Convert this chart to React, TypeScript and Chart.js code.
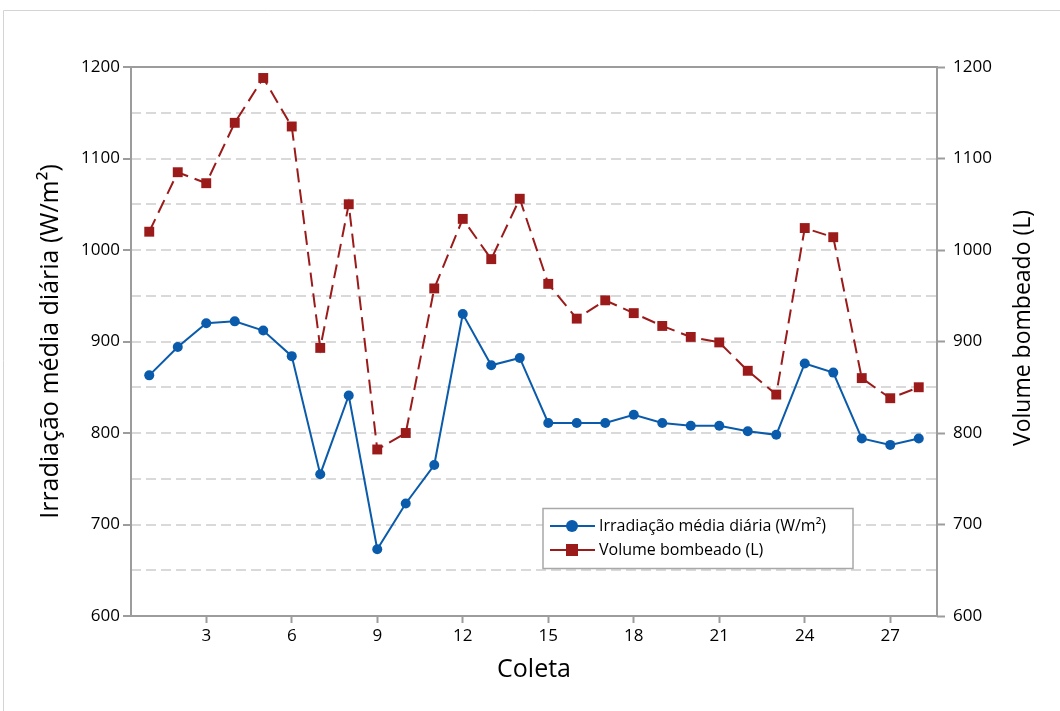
import React, { useEffect, useRef } from "react";
import { Chart, registerables } from "chart.js";

Chart.register(...registerables);

const categories = [1, 2, 3, 4, 5, 6, 7, 8, 9, 10, 11, 12, 13, 14, 15, 16, 17, 18, 19, 20, 21, 22, 23, 24, 25, 26, 27, 28];
const irradiacao = [863, 894, 920, 922, 912, 884, 755, 841, 673, 723, 765, 930, 874, 882, 811, 811, 811, 820, 811, 808, 808, 802, 798, 876, 866, 794, 787, 794];
const volume = [1020, 1085, 1073, 1139, 1188, 1135, 893, 1050, 782, 800, 958, 1034, 990, 1056, 963, 925, 945, 931, 917, 905, 899, 868, 842, 1024, 1014, 860, 838, 850];
const xTicks = [3, 6, 9, 12, 15, 18, 21, 24, 27];
const yGridValues = [600, 650, 700, 750, 800, 850, 900, 950, 1000, 1050, 1100, 1150, 1200];
const yLabelStep = 100;

const seriesNames = ["Irradiação média diária (W/m²)", "Volume bombeado (L)"];
const axisTitles = { x: "Coleta", y: "Irradiação média diária (W/m²)", y2: "Volume bombeado (L)" };

const BLUE = "#0a5bab";
const RED = "#9b1a1a";
const AXIS = "#9c9c9c";
const GRID = "#d9d9d9";
const TEXT = "#000000";
const FONT = "'Open Sans', 'Noto Sans', sans-serif";

const framePlugin = {
  id: "frame",
  beforeDraw(chart: any) {
    const { ctx, width, height } = chart;
    ctx.save();
    ctx.fillStyle = "#ffffff";
    ctx.fillRect(0, 0, width, height);
    ctx.strokeStyle = "#d4d4d4";
    ctx.lineWidth = 1;
    ctx.beginPath();
    ctx.moveTo(3.5, height);
    ctx.lineTo(3.5, 10.5);
    ctx.lineTo(width, 10.5);
    ctx.stroke();
    ctx.restore();
  },
  beforeDatasetsDraw(chart: any) {
    const { ctx, chartArea } = chart;
    ctx.save();
    ctx.strokeStyle = AXIS;
    ctx.lineWidth = 2;
    ctx.strokeRect(chartArea.left, chartArea.top, chartArea.right - chartArea.left, chartArea.bottom - chartArea.top);
    ctx.restore();
  },
  afterDraw(chart: any) {
    const { ctx } = chart;
    ctx.save();
    // right axis title, reading bottom-to-top
    ctx.translate(1023, 328);
    ctx.rotate(-Math.PI / 2);
    ctx.font = `500 23px ${FONT}`;
    ctx.fillStyle = TEXT;
    ctx.textAlign = "center";
    ctx.textBaseline = "middle";
    ctx.fillText(axisTitles.y2, 0, 0);
    ctx.restore();

    // legend
    const bx = 543, by = 508.5, bw = 310, bh = 60;
    ctx.save();
    ctx.fillStyle = "#ffffff";
    ctx.fillRect(bx, by, bw, bh);
    ctx.strokeStyle = "#a8a8a8";
    ctx.lineWidth = 1.5;
    ctx.strokeRect(bx, by, bw, bh);
    const rows = [
      { y: 526, color: BLUE, shape: "circle", label: seriesNames[0] },
      { y: 550, color: RED, shape: "rect", label: seriesNames[1] },
    ];
    ctx.font = `16px ${FONT}`;
    ctx.textBaseline = "middle";
    ctx.textAlign = "left";
    for (const r of rows) {
      ctx.strokeStyle = r.color;
      ctx.lineWidth = 2;
      ctx.beginPath();
      ctx.moveTo(550, r.y);
      ctx.lineTo(595, r.y);
      ctx.stroke();
      ctx.fillStyle = r.color;
      if (r.shape === "circle") {
        ctx.beginPath();
        ctx.arc(572, r.y, 6, 0, Math.PI * 2);
        ctx.fill();
      } else {
        ctx.fillRect(566, r.y - 6, 12, 12);
      }
      ctx.fillStyle = TEXT;
      ctx.fillText(r.label, 599, r.y);
    }
    ctx.restore();
  },
};

const yTickBuilder = (scale: any) => {
  scale.ticks = yGridValues.map((v) => ({ value: v }));
};
const yLabel = (v: any) => (Number(v) % yLabelStep === 0 ? String(v) : "");
const tickColorFn = (ctx: any) => (ctx.tick && ctx.tick.value % yLabelStep === 0 ? AXIS : "rgba(0,0,0,0)");
const tickFont = { family: FONT, size: 17, weight: 500 };
const titleFont = { family: FONT, size: 25, weight: 500 };

export default function App() {
  const ref = useRef<HTMLCanvasElement | null>(null);

  useEffect(() => {
    if (!ref.current) return;
    const chart = new Chart(ref.current, {
      type: "line",
      data: {
        datasets: [
          {
            label: seriesNames[0],
            data: categories.map((c, i) => ({ x: c, y: irradiacao[i] })),
            borderColor: BLUE,
            backgroundColor: BLUE,
            borderWidth: 2,
            pointStyle: "circle",
            pointRadius: 5,
            pointBorderWidth: 0,
            yAxisID: "y",
          },
          {
            label: seriesNames[1],
            data: categories.map((c, i) => ({ x: c, y: volume[i] })),
            borderColor: RED,
            backgroundColor: RED,
            borderWidth: 2,
            borderDash: [14, 7],
            pointStyle: "rect",
            pointRadius: 7,
            pointBorderWidth: 0,
            yAxisID: "y2",
          },
        ],
      },
      options: {
        animation: false,
        responsive: true,
        maintainAspectRatio: false,
        layout: { padding: { top: 67, left: 0, right: 0, bottom: 0 } },
        plugins: { legend: { display: false }, tooltip: { enabled: false } },
        scales: {
          x: {
            type: "linear",
            min: 0.36,
            max: 28.64,
            afterBuildTicks: (scale: any) => {
              scale.ticks = xTicks.map((v) => ({ value: v }));
            },
            afterFit: (scale: any) => {
              scale.height = 95;
            },
            border: { display: false },
            grid: { drawOnChartArea: false, drawTicks: true, tickLength: 7, tickColor: AXIS, tickWidth: 2 },
            ticks: { color: TEXT, font: tickFont, padding: 3, maxRotation: 0, autoSkip: false },
            title: { display: true, text: axisTitles.x, color: TEXT, font: titleFont, padding: 26 },
          },
          y: {
            type: "linear",
            position: "left",
            min: 600,
            max: 1200,
            afterBuildTicks: yTickBuilder,
            afterFit: (scale: any) => {
              scale.width = 131;
            },
            border: { display: false, dash: [10, 5] },
            grid: {
              color: (ctx: any) => (ctx.tick && (ctx.tick.value === 600 || ctx.tick.value === 1200) ? "rgba(0,0,0,0)" : GRID),
              lineWidth: 2,
              tickLength: 8,
              tickColor: tickColorFn,
              tickWidth: 2,
              tickBorderDash: [],
            },
            ticks: { color: TEXT, font: tickFont, padding: 3, callback: yLabel, autoSkip: false },
            title: { display: true, text: axisTitles.y, color: TEXT, font: titleFont, padding: { top: 36, bottom: 0 } },
          },
          y2: {
            type: "linear",
            position: "right",
            min: 600,
            max: 1200,
            afterBuildTicks: yTickBuilder,
            afterFit: (scale: any) => {
              scale.width = 123;
            },
            border: { display: false },
            grid: { drawOnChartArea: false, tickLength: 8, tickColor: tickColorFn, tickWidth: 2 },
            ticks: { color: TEXT, font: tickFont, padding: 8, callback: yLabel, autoSkip: false },
          },
        },
      },
      plugins: [framePlugin],
    } as any);
    return () => chart.destroy();
  }, []);

  return (
    <div style={{ position: "absolute", left: 0, top: 0, width: 1060, height: 711, background: "#fff" }}>
      <canvas ref={ref} />
    </div>
  );
}
